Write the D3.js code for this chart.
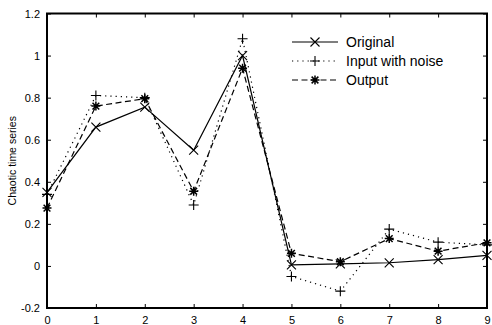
<!DOCTYPE html>
<html><head><meta charset="utf-8">
<script src="https://cdn.jsdelivr.net/npm/d3@7"></script>
<style>body{margin:0;background:#fff}svg{display:block}</style>
</head><body><svg id="c" width="492" height="325"></svg>
<script>
const xValues = [0,1,2,3,4,5,6,7,8,9];
const original = [0.35,0.66,0.755,0.55,1.0,0.005,0.01,0.015,0.03,0.05];
const inputNoise = [0.34,0.81,0.80,0.29,1.08,-0.05,-0.12,0.175,0.113,0.10];
const output = [0.275,0.76,0.795,0.355,0.94,0.06,0.02,0.13,0.07,0.11];
const yTicks = [-0.2,0,0.2,0.4,0.6,0.8,1,1.2];
const seriesNames = ["Original","Input with noise","Output"];

const svg = d3.select("#c");
const L=47, R=487, T=13.5, B=308;
const x = d3.scaleLinear().domain([0,9]).range([L,R]);
const y = d3.scaleLinear().domain([-0.2,1.2]).range([B,T]);
const font = "'Liberation Sans', Arial, Helvetica, sans-serif";

const g = svg.append("g");
const ax = (gen, tr) => g.append("g").attr("transform", tr).call(gen)
  .call(s=>s.select(".domain").remove())
  .call(s=>s.selectAll("line").attr("stroke","#000").attr("stroke-width",1))
  .call(s=>s.selectAll("text").attr("font-family",font).attr("font-size",11).attr("fill","#000"));
ax(d3.axisBottom(x).tickValues(xValues).tickSize(-4).tickPadding(8).tickFormat(d3.format("d")), `translate(0,${B})`);
ax(d3.axisTop(x).tickValues(xValues).tickSize(-4).tickFormat(""), `translate(0,${T})`);
ax(d3.axisLeft(y).tickValues(yTicks).tickSize(-4).tickPadding(7).tickFormat(d=>String(+d.toFixed(1))), `translate(${L},0)`);
ax(d3.axisRight(y).tickValues(yTicks).tickSize(-4).tickFormat(""), `translate(${R},0)`);
g.append("rect").attr("x",L).attr("y",T).attr("width",R-L).attr("height",B-T)
  .attr("fill","none").attr("stroke","#000").attr("stroke-width",2);

svg.append("text").attr("transform",`translate(16,${(T+B)/2}) rotate(-90)`)
  .attr("text-anchor","middle").attr("font-family",font).attr("font-size",10.5).attr("fill","#000").text("Chaotic time series");

function marker(sel, type, cx, cy){
  const s=4.5;
  const p = sel.append("g").attr("transform",`translate(${cx},${cy})`).attr("stroke","#000").attr("stroke-width",1.1).attr("fill","none");
  if(type==="x"){
    p.append("path").attr("d",`M${-s},${-s}L${s},${s}M${-s},${s}L${s},${-s}`);
  } else if(type==="+"){
    p.append("path").attr("d",`M${-s-0.5},0L${s+0.5},0M0,${-s-0.5}L0,${s+0.5}`);
  } else {
    p.append("path").attr("d",`M${-s},0L${s},0M0,${-s}L0,${s}M${-s*0.75},${-s*0.75}L${s*0.75},${s*0.75}M${-s*0.75},${s*0.75}L${s*0.75},${-s*0.75}`).attr("stroke-width",1.5);
  }
}

const series = [
  {name:seriesNames[0], vals:original, dash:null, m:"x"},
  {name:seriesNames[1], vals:inputNoise, dash:"1.2,4", m:"+"},
  {name:seriesNames[2], vals:output, dash:"6,3.5", m:"*"}
];
const line = d3.line().x((d,i)=>x(xValues[i])).y(d=>y(d));
series.forEach(s=>{
  svg.append("path").datum(s.vals).attr("d",line).attr("fill","none").attr("stroke","#000")
    .attr("stroke-width",1.2).attr("stroke-dasharray",s.dash);
  s.vals.forEach((v,i)=>marker(svg,s.m,x(xValues[i]),y(v)));
});

series.forEach((s,i)=>{
  const ly = 42 + i*19;
  svg.append("line").attr("x1",292).attr("x2",338).attr("y1",ly).attr("y2",ly)
    .attr("stroke","#000").attr("stroke-width",1.2).attr("stroke-dasharray",s.dash);
  marker(svg,s.m,315,ly);
  svg.append("text").attr("x",346).attr("y",ly+5).attr("font-family",font).attr("font-size",14).attr("fill","#000").text(s.name);
});
</script></body></html>
